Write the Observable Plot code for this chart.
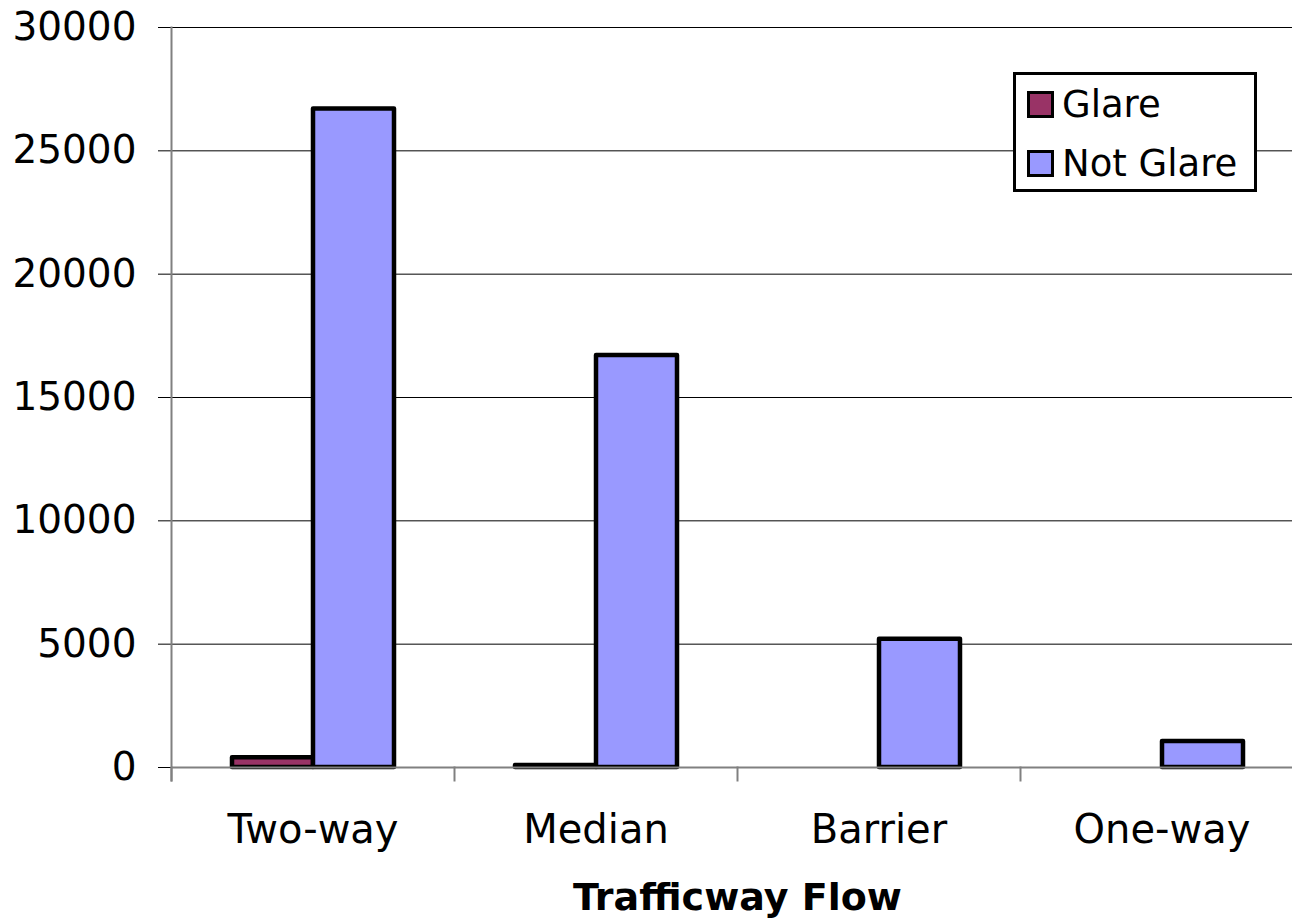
<!DOCTYPE html>
<html>
<head>
<meta charset="utf-8">
<script src="https://cdn.jsdelivr.net/npm/d3@7"></script>
<script src="https://cdn.jsdelivr.net/npm/@observablehq/plot@0.6"></script>
<style>
  html, body { margin: 0; padding: 0; background: #fff; overflow: hidden; }
  #wrap { position: relative; width: 1292px; height: 918px; overflow: hidden; font-family: "DejaVu Sans", sans-serif; }
  #wrap svg { max-width: none !important; }
  #wrap svg g[aria-label="fx-axis label"] text { font-weight: bold; font-size: 38px; }
  #legend { position: absolute; left: 1013px; top: 72px; width: 238px; height: 114px; border: 3px solid #000; background: #fff; box-sizing: content-box; }
  .item { position: absolute; left: 11px; display: flex; align-items: center; font-size: 37px; line-height: 1; color: #000; }
  .sw { width: 21px; height: 21px; border: 3px solid #000; margin-right: 8px; }
</style>
</head>
<body>
<div id="wrap"><div id="legend"></div></div>
<script>
const categories = ["Two-way", "Median", "Barrier", "One-way"];
const series = ["Glare", "Not Glare"];
const colors = ["#993366", "#9999FF"];
const glareValues = [400, 80, 0, 0];
const notGlareValues = [26700, 16700, 5200, 1050];
const yTicks = [0, 5000, 10000, 15000, 20000, 25000, 30000];
const xTitle = "Trafficway Flow";

const rows = [];
categories.forEach((c, i) => {
  rows.push({cat: c, series: series[0], value: glareValues[i]});
  rows.push({cat: c, series: series[1], value: notGlareValues[i]});
});

const chart = Plot.plot({
  width: 1304,
  height: 918,
  marginLeft: 170,
  marginRight: 0,
  marginTop: 27,
  marginBottom: 151,
  style: {fontFamily: "DejaVu Sans", fontSize: "38px", color: "#000", background: "#fff", overflow: "visible", maxWidth: "none"},
  fx: {domain: categories, padding: 0, axis: null},
  x: {domain: series, paddingInner: 0, paddingOuter: 0.734, axis: null},
  y: {domain: [0, 30000], axis: null},
  color: {domain: series, range: colors},
  marks: [
    Plot.gridY(yTicks.filter(d => d > 0), {stroke: "#000", strokeOpacity: 1, strokeWidth: 1}),
    Plot.axisY(yTicks, {tickSize: 13, tickPadding: 22, fontSize: 39, label: null, stroke: "#000", tickFormat: d => String(d)}),
    Plot.barY(rows.filter(d => d.value > 0), {fx: "cat", x: "series", y: "value", fill: "series", stroke: "#000", strokeWidth: 4.5, strokeLinejoin: "round"}),
    Plot.ruleY([0], {stroke: "#808080", strokeWidth: 2}),
    Plot.frame({anchor: "left", insetTop: 740, insetBottom: -13, stroke: "#808080", strokeWidth: 2}),
    Plot.frame({anchor: "left", facetAnchor: "left", insetBottom: -13, stroke: "#808080", strokeWidth: 2}),
    Plot.axisFx({anchor: "bottom", tickSize: 0, tickPadding: 47, fontSize: 40, label: xTitle, labelAnchor: "center", labelOffset: 142})
  ]
});
document.getElementById("wrap").prepend(chart);

const legend = document.getElementById("legend");
series.forEach((s, i) => {
  const item = document.createElement("div");
  item.className = "item";
  item.style.top = (i === 0 ? 11 : 70) + "px";
  const sw = document.createElement("div");
  sw.className = "sw";
  sw.style.background = colors[i];
  const t = document.createElement("span");
  t.textContent = s;
  item.append(sw, t);
  legend.append(item);
});
</script>
</body>
</html>
